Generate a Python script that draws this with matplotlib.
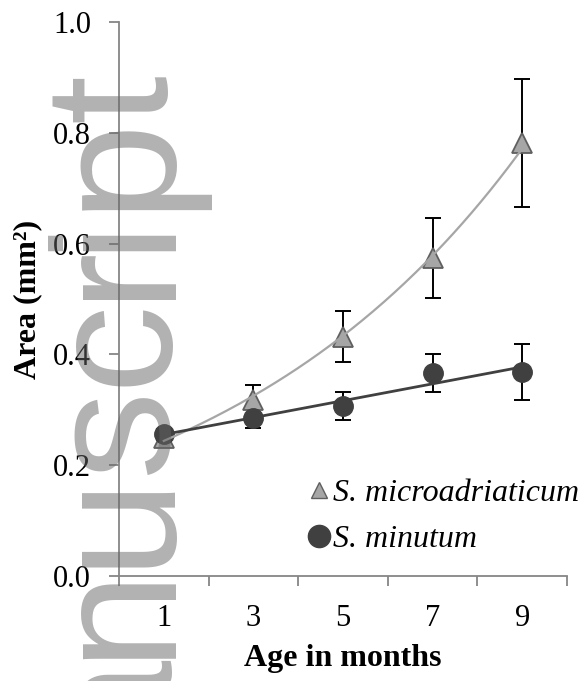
import numpy as np
import matplotlib
matplotlib.use("Agg")
import matplotlib.pyplot as plt
from matplotlib.lines import Line2D

# ---- data ----
months = [1, 3, 5, 7, 9]
micro_mean = [0.249, 0.318, 0.432, 0.574, 0.782]
micro_err = [0.010, 0.027, 0.046, 0.072, 0.116]
minut_mean = [0.256, 0.285, 0.307, 0.366, 0.368]
minut_err = [0.010, 0.018, 0.025, 0.034, 0.050]
xtick_labels = ["1", "3", "5", "7", "9"]
series_names = ["S. microadriaticum", "S. minutum"]

plt.rcParams['font.family'] = ['Liberation Serif', 'DejaVu Serif']

fig = plt.figure(figsize=(5.87, 6.81), dpi=100)
ax = fig.add_axes([119/587, 1-576/681, (567-119)/587, (576-22)/681])

x = np.array(months, dtype=float)
ym = np.array(micro_mean)
yn = np.array(minut_mean)

tri_fill = '#a6a6a6'
tri_edge = '#5f5f5f'
dot_col = '#404040'

# error bars + markers
ax.errorbar(x, ym, yerr=micro_err, fmt='none', ecolor='black', elinewidth=1.4,
            capsize=6, capthick=1.4, zorder=2)
ax.errorbar(x, yn, yerr=minut_err, fmt='none', ecolor='black', elinewidth=1.4,
            capsize=6, capthick=1.4, zorder=2)
ax.plot(x, ym, linestyle='none', marker='^', markersize=14, markerfacecolor=tri_fill,
        markeredgecolor=tri_edge, markeredgewidth=1.3, zorder=3)
ax.plot(x, yn, linestyle='none', marker='o', markersize=14, markerfacecolor=dot_col,
        markeredgecolor=dot_col, zorder=3)

# trendlines: exponential for microadriaticum, linear for minutum
xs = np.linspace(x.min(), x.max(), 200)
b, a = np.polyfit(x, np.log(ym), 1)
ax.plot(xs, np.exp(a + b*xs), color='#a6a6a6', lw=1.6, zorder=4)
m, c = np.polyfit(x, yn, 1)
ax.plot(xs, m*xs + c, color='#404040', lw=2.0, zorder=4)

# axes styling
ax.set_xlim(0, 10)
ax.set_ylim(0, 1.0)
for s in ['top', 'right']:
    ax.spines[s].set_visible(False)
for s in ['left', 'bottom']:
    ax.spines[s].set_color('#868686')
    ax.spines[s].set_linewidth(1.3)

ax.set_yticks(np.arange(0, 1.01, 0.2))
ax.set_yticklabels([f"{v:.1f}" for v in np.arange(0, 1.01, 0.2)])
ax.tick_params(axis='y', direction='out', length=7, width=1.3, color='#868686',
               labelsize=22, pad=13)
ax.set_xticks(months)
ax.set_xticklabels(xtick_labels)
ax.set_xticks(np.arange(0, 11, 2), minor=True)
ax.tick_params(axis='x', which='major', length=0, labelsize=22, pad=20)
ax.tick_params(axis='x', which='minor', direction='out', length=7, width=1.3,
               color='#868686')

ax.set_xlabel("Age in months", fontsize=23, fontweight='bold', labelpad=8)
ax.set_ylabel("Area (mm²)", fontsize=23, fontweight='bold', labelpad=8)

handles = [
    Line2D([], [], linestyle='none', marker='^', markersize=12, markerfacecolor=tri_fill,
           markeredgecolor=tri_edge, markeredgewidth=1.0),
    Line2D([], [], linestyle='none', marker='o', markersize=16, markerfacecolor=dot_col,
           markeredgecolor=dot_col),
]
leg = fig.legend(handles, series_names, loc='upper left',
                 bbox_to_anchor=(309/587, 1-479/681), frameon=False,
                 prop={'style': 'italic', 'size': 23}, handlelength=0.6,
                 handletextpad=0.15, labelspacing=0.5, borderpad=0,
                 borderaxespad=0)

# watermark ("Manuscript", rotated, partly cut off at the bottom edge)
wm_letters = ["M", "a", "n", "u", "s", "c", "r", "i", "p", "t"]
wm_centers = [800, 702, 610, 518, 431, 342, 270, 231, 161, 97]
for ch, cy in zip(wm_letters, wm_centers):
    fig.text(165/587, 1-cy/681, ch, rotation=90, rotation_mode='anchor',
             ha='center', va='baseline', fontsize=127, family='Liberation Sans',
             color='#666666', alpha=0.5, zorder=10)

fig.savefig("out.png", dpi=100)
